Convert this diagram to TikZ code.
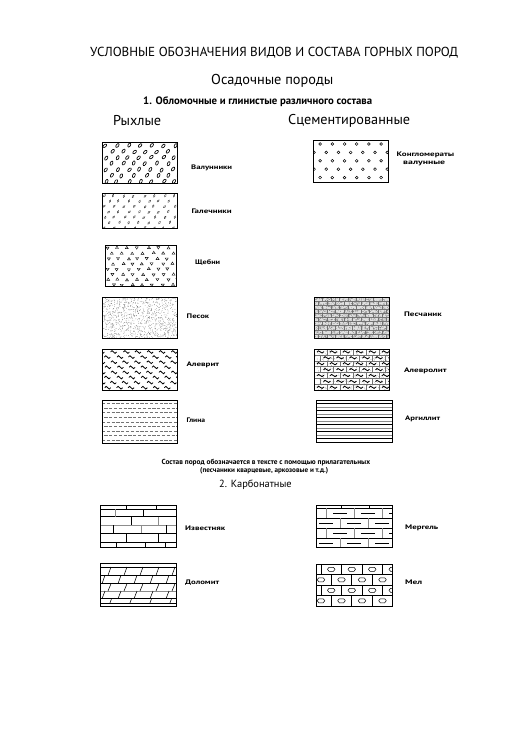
\documentclass[tikz,border=0pt]{standalone}
\usepackage{fontspec}
\setmainfont{PT Sans}
\usepackage{graphicx}
\newcommand\fw[2]{\resizebox{#1pt}{!}{#2}}
\newcommand\fwh[3]{\resizebox{#1pt}{#2pt}{#3}}
\tikzset{
  hd/.style={anchor=west, inner sep=0pt},
  lbl/.style={anchor=west, inner sep=0pt, font=\bfseries},
  rbox/.style={draw, line width=1.2pt, anchor=north west, inner sep=0pt},
  thin/.style={line width=0.55pt},
  grayln/.style={line width=1pt, black!45}
}
\begin{document}
\begin{tikzpicture}[x=1pt,y=-1pt]
\useasboundingbox (0,0) rectangle (529,746);
\pgfmathsetseed{4321}

% ---------- headings ----------
\node[hd] (title) at (90,53) {\fw{368}{УСЛОВНЫЕ ОБОЗНАЧЕНИЯ ВИДОВ И СОСТАВА ГОРНЫХ ПОРОД}};
\node[hd] (osad) at (211,81) {\fw{122}{Осадочные породы}};
\node[hd] (sec1) at (143,102) {\fw{229}{\bfseries 1. Обломочные и глинистые различного состава}};
\node[hd] (ryh) at (113,121) {\fw{48}{Рыхлые}};
\node[hd] (scem) at (288,121) {\fw{122}{Сцементированные}};

% ---------- Валунники ----------
\begin{scope}[shift={(102,142)}]
\clip (0,0) rectangle (75,41);
\foreach \r in {0,...,6}{\foreach \c in {0,...,6}{
  \pgfmathsetmacro\xx{\c*11.5+mod(\r,2)*5.75+2+3*rnd}
  \pgfmathsetmacro\yy{\r*6+3+1.2*rnd}
  \pgfmathsetmacro\aa{40+30*rnd}
  \draw[line width=0.65pt] (\xx,\yy) ellipse [x radius=2.2pt, y radius=1.25pt, rotate=\aa];
}}
\end{scope}
\node[rbox, minimum width=75pt, minimum height=41pt] (bvalun) at (102,142) {};

% ---------- Галечники ----------
\begin{scope}[shift={(102,193)}]
\clip (0,0) rectangle (75,35);
\foreach \r in {0,...,6}{\foreach \c in {0,...,7}{
  \pgfmathsetmacro\xx{\c*10+mod(\r,2)*5+1+2.5*rnd}
  \pgfmathsetmacro\yy{\r*5.3+2.5+1*rnd}
  \pgfmathsetmacro\aa{40+35*rnd}
  \draw[line width=0.35pt, black!80] (\xx,\yy) ellipse [x radius=1.45pt, y radius=0.8pt, rotate=\aa];
}}
\end{scope}
\node[rbox, minimum width=75pt, minimum height=35pt] (bgal) at (102,193) {};

% ---------- Щебни ----------
\begin{scope}[shift={(105,245)}]
\clip (0,0) rectangle (71,41);
\foreach \r in {0,...,7}{\foreach \c in {0,...,7}{
  \pgfmathsetmacro\xx{\c*10+mod(\r,2)*5+1.5+2.5*rnd}
  \pgfmathsetmacro\yy{\r*5.3+2.5+1*rnd}
  \pgfmathsetmacro\ff{ifthenelse(rnd<0.5,1,-1)}
  \draw[line width=0.4pt] ({\xx},{\yy-1.5*\ff}) -- ({\xx+1.5},{\yy+0.9*\ff}) -- ({\xx-1.5},{\yy+0.9*\ff}) -- cycle;
}}
\end{scope}
\node[rbox, minimum width=71pt, minimum height=41pt] (bscheb) at (105,245) {};

% ---------- Песок ----------
\begin{scope}[shift={(102,297)}]
\clip (0,0) rectangle (75,41);
\foreach \i in {1,...,1000}{\fill[black!70] ({75*rnd},{41*rnd}) circle (0.28pt);}
\end{scope}
\node[rbox, minimum width=75pt, minimum height=41pt] (bpesok) at (102,297) {};

% ---------- Алеврит ----------
\begin{scope}[shift={(102,349)}]
\clip (0,0) rectangle (75,41);
\foreach \r in {0,...,7}{\foreach \c in {0,...,6}{
  \pgfmathsetmacro\xx{\c*12+mod(\r,2)*6-4+1.5*rnd}
  \pgfmathsetmacro\yy{\r*5.1+3}
  \draw[line width=0.8pt] (\xx,\yy) .. controls ({\xx+1},{\yy-1.8}) and ({\xx+2},{\yy-1.8}) .. ({\xx+3},\yy) .. controls ({\xx+4},{\yy+1.8}) and ({\xx+5},{\yy+1.8}) .. ({\xx+6},\yy);
}}
\end{scope}
\node[rbox, minimum width=75pt, minimum height=41pt] (balevr) at (102,349) {};

% ---------- Глина ----------
\begin{scope}[shift={(102,400)}]
\clip (0,0) rectangle (75,43);
\foreach \k in {0,...,8}{
  \pgfmathsetmacro\yy{3.5+\k*4.6}
  \draw[black!55, line width=0.6pt, dash pattern=on 3.2pt off 1.6pt, dash phase={mod(\k,2)*2.4pt}] (0,\yy) -- (75,\yy);
}
\end{scope}
\node[rbox, minimum width=75pt, minimum height=43pt] (bglina) at (102,400) {};

% ---------- Конгломераты ----------
\begin{scope}[shift={(313,140)}]
\clip (0,0) rectangle (75,42);
\foreach \r in {0,...,4}{\foreach \c in {0,...,6}{
  \pgfmathsetmacro\xx{\c*12.2+mod(\r+1,2)*6.1+1}
  \pgfmathsetmacro\yy{4+\r*8.4}
  \draw[line width=0.5pt] (\xx,\yy) circle (1.4pt);
}}
\end{scope}
\node[rbox, minimum width=75pt, minimum height=42pt] (bkongl) at (313,140) {};

% ---------- Песчаник ----------
\begin{scope}[shift={(314,297)}]
\clip (0,0) rectangle (75,41);
\fill[black!12] (0,0) rectangle (75,41);
\foreach \i in {1,...,1600}{\fill[black!60] ({75*rnd},{41*rnd}) circle (0.32pt);}
\foreach \r in {1,...,10}{\draw[black!55, line width=0.5pt] (0,{\r*4.1}) -- (75,{\r*4.1});}
\foreach \r in {0,...,9}{\foreach \c in {0,...,9}{
  \pgfmathsetmacro\xx{\c*8.5+mod(\r,2)*4.25}
  \draw[black!55, line width=0.5pt] (\xx,{\r*4.1}) -- (\xx,{\r*4.1+4.1});
}}
\end{scope}
\node[rbox, minimum width=75pt, minimum height=41pt] (bpesch) at (314,297) {};

% ---------- Алевролит ----------
\begin{scope}[shift={(314,349)}]
\clip (0,0) rectangle (75,41);
\foreach \i in {1,...,600}{\fill[black!40] ({75*rnd},{41*rnd}) circle (0.3pt);}
\foreach \r in {1,...,6}{\draw[black!55, line width=0.6pt] (0,{\r*5.9}) -- (75,{\r*5.9});}
\foreach \r in {0,...,6}{\foreach \c in {0,...,6}{
  \pgfmathsetmacro\xx{\c*13+mod(\r,2)*6.5}
  \pgfmathsetmacro\yy{\r*5.9}
  \draw[black!55, line width=0.6pt] (\xx,\yy) -- (\xx,{\yy+5.9});
  \draw[line width=0.85pt] ({\xx+3},{\yy+3.2}) .. controls ({\xx+4},{\yy+1.4}) and ({\xx+5},{\yy+1.4}) .. ({\xx+6.3},{\yy+2.9}) .. controls ({\xx+7.5},{\yy+4.4}) and ({\xx+8.5},{\yy+4.4}) .. ({\xx+10},{\yy+2.6});
}}
\end{scope}
\node[rbox, minimum width=75pt, minimum height=41pt] (balevrol) at (314,349) {};

% ---------- Аргиллит ----------
\begin{scope}[shift={(316,400)}]
\clip (0,0) rectangle (76,42);
\foreach \k in {1,...,11}{
  \pgfmathsetmacro\yy{\k*3.5}
  \ifodd\k
    \draw[line width=0.5pt, black] (0,\yy) -- (76,\yy);
  \else
    \draw[line width=0.9pt, black!45] (0,\yy) -- (76,\yy);
  \fi
}
\end{scope}
\node[rbox, minimum width=76pt, minimum height=42pt] (bargil) at (316,400) {};

% ---------- labels, clastic ----------
\node[lbl] (lvalun) at (191,168) {\fwh{41}{4.6}{\bfseries Валунники}};
\node[lbl] (lgal) at (191.5,211) {\fwh{40}{4.6}{\bfseries Галечники}};
\node[lbl] (lscheb) at (195,263) {\fwh{25}{4.8}{\bfseries Щебни}};
\node[lbl] (lpesok) at (186.5,316) {\fwh{22.5}{4.6}{\bfseries Песок}};
\node[lbl] (lalevr) at (186.5,365) {\fwh{32.5}{4.6}{\bfseries Алеврит}};
\node[lbl] (lglina) at (186.5,420.5) {\fwh{18.5}{4.6}{\bfseries Глина}};
\node[lbl] (lkongl) at (396.5,154.5) {\fwh{57.5}{4.6}{\bfseries Конгломераты}};
\node[lbl] (lkongl2) at (403,163) {\fwh{42}{3.4}{\bfseries валунные}};
\node[lbl] (lpesch) at (404,314) {\fwh{37.5}{4.6}{\bfseries Песчаник}};
\node[lbl] (lalevrol) at (404,370.5) {\fwh{42.5}{4.6}{\bfseries Алевролит}};
\node[lbl] (largil) at (405,419) {\fwh{35}{4.6}{\bfseries Аргиллит}};

% ---------- note & section 2 ----------
\node[hd] (note1) at (161.5,463) {\fw{208.5}{\bfseries Состав пород обозначается в тексте с помощью прилагательных}};
\node[hd] (note2) at (200,470.7) {\fw{128}{\bfseries (песчаники кварцевые, аркозовые и т.д.)}};
\node[hd] (sec2) at (219,484.5) {\fw{72.5}{2. Карбонатные}};

% ---------- Известняк ----------
\begin{scope}[shift={(100,505)}]
\clip (0,0) rectangle (76,42);
\foreach \yy in {4,11.7,28.3,37.7}{\draw[thin] (0,\yy) -- (76,\yy);}
\draw[grayln] (0,20) -- (76,20);
\foreach \xx in {26.7,56.7}{\draw[thin] (\xx,0) -- (\xx,4);}
\draw[grayln] (15,4) -- (15,11.7);
\draw[thin] (43.3,4) -- (43.3,11.7);
\draw[thin] (31.7,11.7) -- (31.7,20);
\draw[grayln] (58.3,11.7) -- (58.3,20);
\draw[thin] (13.3,20) -- (13.3,28.3);
\draw[grayln] (41.7,20) -- (41.7,28.3);
\draw[thin] (66.7,20) -- (66.7,28.3);
\draw[thin] (26.7,28.3) -- (26.7,37.7);
\draw[thin] (58.3,28.3) -- (58.3,37.7);
\foreach \xx in {16.7,45,65}{\draw[thin] (\xx,37.7) -- (\xx,42);}
\end{scope}
\node[rbox, minimum width=76pt, minimum height=42pt] (bizv) at (100,505) {};

% ---------- Доломит ----------
\begin{scope}[shift={(100,563)}]
\clip (0,0) rectangle (76,43);
\foreach \yy in {4,12.3,20.7,35.7,40}{\draw[thin] (0,\yy) -- (76,\yy);}
\draw[grayln] (0,28) -- (76,28);
\foreach \xx in {8,24,40,56,72}{\draw[thin] (\xx,12.3) -- ({\xx+3},4);}
\foreach \xx in {0,16,32,48,64}{\draw[thin] ({\xx+2},20.7) -- ({\xx+5},12.3);}
\foreach \xx in {8,24,40,56,72}{\draw[thin] (\xx,28) -- ({\xx+3},20.7);}
\foreach \xx in {0,16,32,48,64}{\draw[thin] ({\xx+2},35.7) -- ({\xx+5},28);}
\foreach \xx in {10,30,50,70}{\draw[thin] (\xx,40) -- ({\xx+1.5},35.7);}
\end{scope}
\node[rbox, minimum width=76pt, minimum height=43pt] (bdolom) at (100,563) {};

% ---------- Мергель ----------
\begin{scope}[shift={(316,505)}]
\clip (0,0) rectangle (76,42);
\foreach \yy in {3.3,13.3,23.3,33.3}{\draw[thin] (0,\yy) -- (76,\yy);}
\foreach \xx in {25,53.3}{\draw[thin] (\xx,0) -- (\xx,3.3);}
\foreach \r/\yy in {0/3.3,1/13.3,2/23.3,3/33.3}{
  \pgfmathsetmacro\off{mod(\r+1,2)*14-4}
  \foreach \c in {0,...,3}{
    \pgfmathsetmacro\xx{\off+\c*28}
    \draw[grayln, line width=0.9pt] (\xx,\yy) -- (\xx,{\yy+10});
    \draw[thin] ({\xx+7},{\yy+5}) -- ({\xx+21},{\yy+5});
  }
}
\end{scope}
\node[rbox, minimum width=76pt, minimum height=42pt] (bmerg) at (316,505) {};

% ---------- Мел ----------
\begin{scope}[shift={(316,564)}]
\clip (0,0) rectangle (76,42);
\foreach \yy in {10.5,21,31.5}{\draw[thin] (0,\yy) -- (76,\yy);}
\foreach \r in {0,...,3}{
  \pgfmathsetmacro\off{mod(\r+1,2)*10.25+5-10.25}
  \pgfmathsetmacro\yy{\r*10.5}
  \foreach \c in {0,...,4}{
    \pgfmathsetmacro\xx{\off+\c*20.5}
    \draw[thin] (\xx,\yy) -- (\xx,{\yy+10.5});
    \pgfmathsetmacro\cx{\xx+10.25}
    \pgfmathsetmacro\cy{\yy+5.25}
    \draw[line width=0.5pt] ({\cx-3.8},\cy) -- ({\cx-2.2},{\cy-2}) -- ({\cx+2.2},{\cy-2}) -- ({\cx+3.8},\cy) -- ({\cx+2.2},{\cy+2}) -- ({\cx-2.2},{\cy+2}) -- cycle;
  }
}
\end{scope}
\node[rbox, minimum width=76pt, minimum height=42pt] (bmel) at (316,564) {};

% ---------- labels, carbonate ----------
\node[lbl] (lizv) at (185,528) {\fwh{40}{4.6}{\bfseries Известняк}};
\node[lbl] (ldolom) at (185,583) {\fwh{34}{4.6}{\bfseries Доломит}};
\node[lbl] (lmerg) at (405,528) {\fwh{33}{4.6}{\bfseries Мергель}};
\node[lbl] (lmel) at (405,582) {\fwh{17}{4.6}{\bfseries Мел}};
\end{tikzpicture}
\end{document}
